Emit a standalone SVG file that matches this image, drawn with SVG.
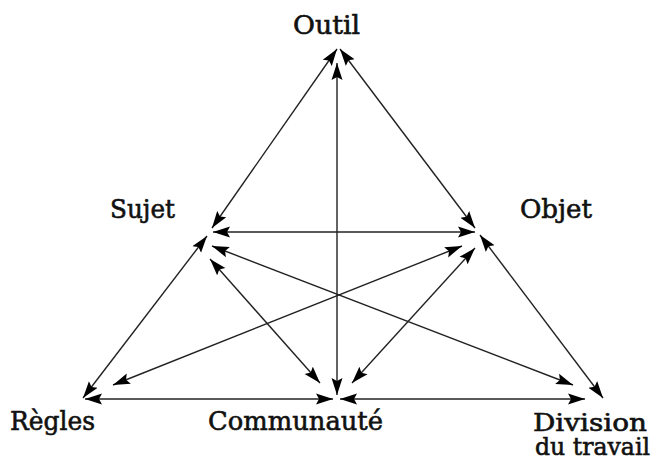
<svg xmlns="http://www.w3.org/2000/svg" width="657" height="461" viewBox="0 0 657 461">
<style>
.lbl{font-family:"DejaVu Serif","Liberation Serif",serif;font-size:26px;fill:#111;stroke:#111;stroke-width:0.6}
.sm{font-size:24px}
.c line{stroke:#222;stroke-width:1.4;marker-start:url(#ah);marker-end:url(#ah)}
</style>
<defs>
<marker id="ah" markerUnits="userSpaceOnUse" markerWidth="18" markerHeight="12" refX="17" refY="5.5" orient="auto-start-reverse" viewBox="0 0 18 11">
<path d="M0,0 L17,5.5 L0,11 L3,5.5 z" fill="#000"/>
</marker>
</defs>
<rect width="657" height="461" fill="#fff"/>
<g id="connectors" class="c">
<line x1="337" y1="49" x2="212" y2="228"/>
<line x1="340" y1="49" x2="475" y2="228"/>
<line x1="337" y1="63" x2="337" y2="395"/>
<line x1="213" y1="232" x2="475" y2="232"/>
<line x1="207" y1="236" x2="83" y2="398"/>
<line x1="480" y1="235" x2="603" y2="398"/>
<line x1="85" y1="399" x2="333" y2="399"/>
<line x1="340" y1="399" x2="585" y2="399"/>
<line x1="212" y1="246" x2="573" y2="385"/>
<line x1="462" y1="246" x2="113" y2="385"/>
<line x1="210" y1="259" x2="320" y2="383"/>
<line x1="475" y1="248" x2="352" y2="383"/>
</g>
<g id="outil"><text class="lbl" x="293" y="34" textLength="67" lengthAdjust="spacingAndGlyphs">Outil</text></g>
<g id="sujet"><text class="lbl" x="110" y="218" textLength="65" lengthAdjust="spacingAndGlyphs">Sujet</text></g>
<g id="objet"><text class="lbl" x="520" y="218" textLength="72" lengthAdjust="spacingAndGlyphs">Objet</text></g>
<g id="regles"><text class="lbl" x="10" y="430" textLength="85" lengthAdjust="spacingAndGlyphs">Règles</text></g>
<g id="communaute"><text class="lbl" x="208" y="430" textLength="175" lengthAdjust="spacingAndGlyphs">Communauté</text></g>
<g id="division"><text class="lbl sm" x="533" y="431" textLength="114" lengthAdjust="spacingAndGlyphs">Division</text><text class="lbl sm" x="535" y="455" textLength="115" lengthAdjust="spacingAndGlyphs">du travail</text></g>
</svg>
